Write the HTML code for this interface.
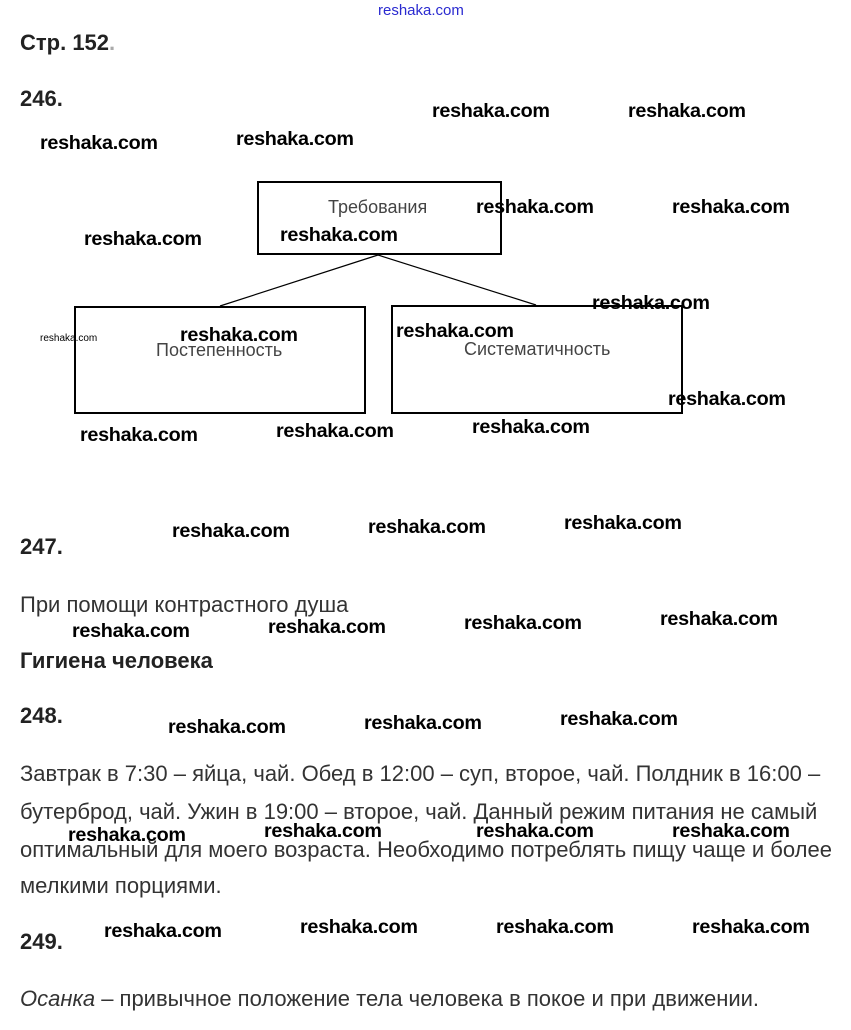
<!DOCTYPE html>
<html><head><meta charset="utf-8"><style>
body{margin:0;width:851px;height:1030px;background:#fff;position:relative;overflow:hidden;font-family:"Liberation Sans",sans-serif}
.a{position:absolute;white-space:nowrap;line-height:24px}
.w{font-weight:bold;font-size:19.8px;color:#000;letter-spacing:-0.3px}
.h{font-weight:bold;font-size:22px;color:#222}
.b{font-size:22px;color:#333;transform:scaleX(1.0);transform-origin:left center}
.box{position:absolute;border:2px solid #000;box-sizing:border-box}
.l{font-size:18px;color:#444}
</style></head><body>
<div class="a" style="left:378px;top:0;font-size:15px;color:#2a2ad0;line-height:22px">reshaka.com</div>
<div class="a h" style="left:20px;top:31px">Стр. 152<span style="color:#aaa">.</span></div>
<div class="a h" style="left:20px;top:87px">246.</div>

<div class="box" style="left:257px;top:181px;width:245px;height:74px"></div>
<div class="box" style="left:74px;top:306px;width:292px;height:108px"></div>
<div class="box" style="left:391px;top:305px;width:292px;height:109px"></div>
<svg style="position:absolute;left:0;top:0" width="851" height="1030"><line x1="378" y1="255" x2="220" y2="306" stroke="#000" stroke-width="1.2"/><line x1="378" y1="255" x2="536" y2="305" stroke="#000" stroke-width="1.2"/></svg>
<div class="a l" style="left:328px;top:195px">Требования</div>
<div class="a l" style="left:156px;top:338px">Постепенность</div>
<div class="a l" style="left:464px;top:337px">Систематичность</div>
<div class="a" style="left:40px;top:332px;font-size:10px;line-height:14px">reshaka.com</div>

<div class="a h" style="left:20px;top:535px">247.</div>
<div class="a" style="left:20px;top:593px;font-size:22px;color:#333">При помощи контрастного душа</div>
<div class="a h" style="left:20px;top:649px">Гигиена человека</div>
<div class="a h" style="left:20px;top:704px">248.</div>
<div class="a b" style="left:20px;top:762px">Завтрак в 7:30 – яйца, чай. Обед в 12:00 – суп, второе, чай. Полдник в 16:00 –</div>
<div class="a b" style="left:20px;top:800px">бутерброд, чай. Ужин в 19:00 – второе, чай. Данный режим питания не самый</div>
<div class="a b" style="left:20px;top:838px">оптимальный для моего возраста. Необходимо потреблять пищу чаще и более</div>
<div class="a b" style="left:20px;top:874px">мелкими порциями.</div>
<div class="a h" style="left:20px;top:930px">249.</div>
<div class="a b" style="left:20px;top:987px"><i>Осанка</i> – привычное положение тела человека в покое и при движении.</div>

<div class="a w" style="left:432px;top:99px">reshaka.com</div>
<div class="a w" style="left:628px;top:99px">reshaka.com</div>
<div class="a w" style="left:40px;top:131px">reshaka.com</div>
<div class="a w" style="left:236px;top:127px">reshaka.com</div>
<div class="a w" style="left:476px;top:195px">reshaka.com</div>
<div class="a w" style="left:672px;top:195px">reshaka.com</div>
<div class="a w" style="left:84px;top:227px">reshaka.com</div>
<div class="a w" style="left:280px;top:223px">reshaka.com</div>
<div class="a w" style="left:592px;top:291px">reshaka.com</div>
<div class="a w" style="left:180px;top:323px">reshaka.com</div>
<div class="a w" style="left:396px;top:319px">reshaka.com</div>
<div class="a w" style="left:668px;top:387px">reshaka.com</div>
<div class="a w" style="left:80px;top:423px">reshaka.com</div>
<div class="a w" style="left:276px;top:419px">reshaka.com</div>
<div class="a w" style="left:472px;top:415px">reshaka.com</div>
<div class="a w" style="left:172px;top:519px">reshaka.com</div>
<div class="a w" style="left:368px;top:515px">reshaka.com</div>
<div class="a w" style="left:564px;top:511px">reshaka.com</div>
<div class="a w" style="left:72px;top:619px">reshaka.com</div>
<div class="a w" style="left:268px;top:615px">reshaka.com</div>
<div class="a w" style="left:464px;top:611px">reshaka.com</div>
<div class="a w" style="left:660px;top:607px">reshaka.com</div>
<div class="a w" style="left:168px;top:715px">reshaka.com</div>
<div class="a w" style="left:364px;top:711px">reshaka.com</div>
<div class="a w" style="left:560px;top:707px">reshaka.com</div>
<div class="a w" style="left:68px;top:823px">reshaka.com</div>
<div class="a w" style="left:264px;top:819px">reshaka.com</div>
<div class="a w" style="left:476px;top:819px">reshaka.com</div>
<div class="a w" style="left:672px;top:819px">reshaka.com</div>
<div class="a w" style="left:104px;top:919px">reshaka.com</div>
<div class="a w" style="left:300px;top:915px">reshaka.com</div>
<div class="a w" style="left:496px;top:915px">reshaka.com</div>
<div class="a w" style="left:692px;top:915px">reshaka.com</div>
</body></html>
